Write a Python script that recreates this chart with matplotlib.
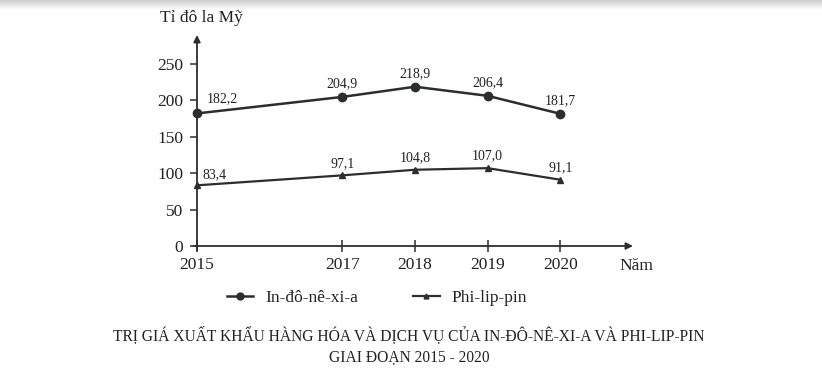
import matplotlib
matplotlib.use("Agg")
import matplotlib.pyplot as plt
from matplotlib.lines import Line2D
import numpy as np

years = [2015, 2017, 2018, 2019, 2020]
indonesia = [182.2, 204.9, 218.9, 206.4, 181.7]
philippines = [83.4, 97.1, 104.8, 107.0, 91.1]
yticks = [0, 50, 100, 150, 200, 250]
series_names = ["In-đô-nê-xi-a", "Phi-lip-pin"]
title1 = "TRỊ GIÁ XUẤT KHẨU HÀNG HÓA VÀ DỊCH VỤ CỦA IN-ĐÔ-NÊ-XI-A VÀ PHI-LIP-PIN"
title2 = "GIAI ĐOẠN 2015 - 2020"
ylabel = "Tỉ đô la Mỹ"
xlabel = "Năm"

plt.rcParams['font.family'] = ['Liberation Serif', 'DejaVu Serif']
INK = "#2b2f2c"
TXT = "#222222"

W, H = 822, 376
fig = plt.figure(figsize=(W / 100, H / 100), dpi=100)

# scan shadow at top
gax = fig.add_axes([0, 1 - 10 / H, 1, 10 / H])
grad = np.linspace(0.80, 1.0, 20)[:, None] * np.ones((20, 200))
gax.imshow(grad, cmap="gray", vmin=0, vmax=1, aspect="auto", extent=[0, 1, 0, 1])
gax.axis("off")

x0, x1 = 197, 633
y0, y1 = 246, 35
ax = fig.add_axes([x0 / W, 1 - y0 / H, (x1 - x0) / W, (y0 - y1) / H])
ax.set_xlim(2015, 2021)
ax.set_ylim(0, 290)
for s in ["top", "right", "left", "bottom"]:
    ax.spines[s].set_visible(False)

# axes with arrows
ax.annotate("", xy=(1.0, 0), xytext=(-0.008, 0), xycoords="axes fraction",
            arrowprops=dict(arrowstyle="-|>", color=INK, lw=1.3, mutation_scale=10,
                            shrinkA=0, shrinkB=0), annotation_clip=False)
ax.annotate("", xy=(0, 1.0), xytext=(0, -0.02), xycoords="axes fraction",
            arrowprops=dict(arrowstyle="-|>", color=INK, lw=1.3, mutation_scale=10,
                            shrinkA=0, shrinkB=0), annotation_clip=False)

ax.set_xticks(years)
ax.set_xticklabels([str(y) for y in years])
ax.set_yticks(yticks)
ax.tick_params(axis="x", direction="inout", length=8, width=1.1, color=INK,
               labelsize=12.5, labelcolor=TXT, pad=4)
ax.tick_params(axis="y", direction="out", length=5, width=1.1, color=INK,
               labelsize=12.5, labelcolor=TXT, pad=5)

ax.plot(years, indonesia, color=INK, lw=1.8, marker="o", ms=6, clip_on=False)
ax.plot(years, philippines, color=INK, lw=1.6, marker="^", ms=4.5, clip_on=False)

def fmt(v):
    return f"{v:.1f}".replace(".", ",")

PX = 0.72  # points per pixel
for i, (x, v) in enumerate(zip(years, indonesia)):
    dx, dy = (25, 15) if i == 0 else (0, 13)
    ax.annotate(fmt(v), (x, v), xytext=(dx * PX, dy * PX), textcoords="offset points",
                ha="center", va="center", fontsize=10, color=TXT)
for i, (x, v) in enumerate(zip(years, philippines)):
    dx, dy = (18, 11) if i == 0 else (0, 12)
    ax.annotate(fmt(v), (x, v), xytext=(dx * PX, dy * PX), textcoords="offset points",
                ha="center", va="center", fontsize=10, color=TXT)

fig.text(201 / W, 1 - 18 / H, ylabel, ha="center", va="center", fontsize=12.5, color=TXT)
fig.text(636 / W, 1 - 266 / H, xlabel, ha="center", va="center", fontsize=12.5, color=TXT)

handles = [Line2D([], [], color=INK, lw=1.8, marker="o", ms=5),
           Line2D([], [], color=INK, lw=1.6, marker="^", ms=3.5)]
leg = fig.legend(handles, series_names, loc="center", bbox_to_anchor=(377 / W, 1 - 298 / H),
                 ncol=2, frameon=False, handlelength=1.5,
                 prop={"family": ["Liberation Serif", "DejaVu Serif"], "size": 12.5},
                 columnspacing=3.2, handletextpad=0.7, borderpad=0, borderaxespad=0)
for t in leg.get_texts():
    t.set_color(TXT)

fig.text(409 / W, 1 - 335 / H, title1, ha="center", va="center", fontsize=11.2, color=TXT)
fig.text(409 / W, 1 - 357 / H, title2, ha="center", va="center", fontsize=11.2, color=TXT)

fig.savefig("out.png", dpi=100, facecolor="white")
